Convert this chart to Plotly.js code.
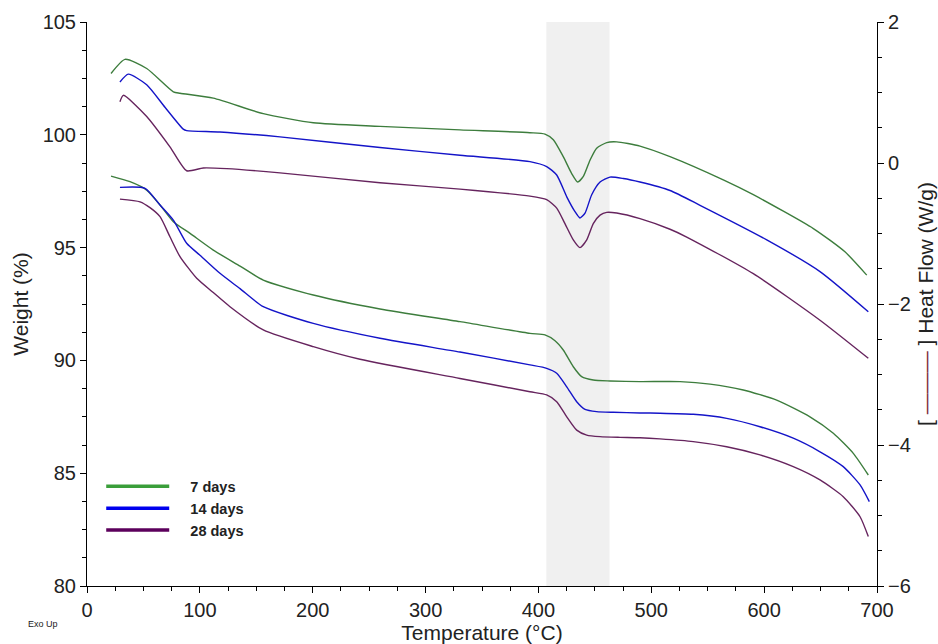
<!DOCTYPE html>
<html>
<head>
<meta charset="utf-8">
<script src="https://cdn.plot.ly/plotly-3.0.1.min.js"></script>
<style>html,body{margin:0;padding:0;background:#fff;}#chart{width:938px;height:644px;}</style>
</head>
<body>
<div id="chart"></div>
<script>
// ---- Data ----
const seriesNames = ['7 days', '14 days', '28 days'];

// Heat flow (W/g), right axis
const tempHF7 = [21.3,33.7,52.9,76.5,82.4,111.9,156.2,200.5,259.6,330.5,392.5,405.8,413.2,422.0,429.5,434.8,439.8,445.7,451.6,460.5,469.4,490,516.6,563.8,590.4,643.6,671.6,690.9];
const hf7 = [1.27,1.47,1.34,1.01,0.99,0.92,0.70,0.57,0.52,0.47,0.43,0.41,0.33,0.09,-0.15,-0.27,-0.19,0.04,0.21,0.29,0.30,0.24,0.09,-0.24,-0.45,-0.93,-1.26,-1.59];

const tempHF14 = [29.2,36.6,52.9,69.1,85.3,88.3,117.8,171,259.6,330.5,392.5,407.3,416.2,425.1,432.4,436.8,441.3,447.2,454.6,463.4,475.2,490,516.6,543.2,602.3,649.5,692.3];
const hf14 = [1.15,1.26,1.11,0.79,0.48,0.46,0.44,0.37,0.22,0.11,0.02,-0.05,-0.17,-0.48,-0.69,-0.78,-0.71,-0.45,-0.27,-0.20,-0.22,-0.27,-0.39,-0.60,-1.09,-1.54,-2.11];

const tempHF28 = [29.2,32.2,52.9,73.5,88.3,103,123.8,171,259.6,330.5,392.5,407.3,416.2,423.5,430.9,436.8,442.8,448.6,454.6,460.5,469.4,490,516.6,531.4,590.4,649.5,692.3];
const hf28 = [0.87,0.96,0.66,0.23,-0.11,-0.07,-0.08,-0.14,-0.28,-0.37,-0.47,-0.52,-0.64,-0.86,-1.09,-1.20,-1.09,-0.86,-0.74,-0.70,-0.71,-0.79,-0.94,-1.05,-1.57,-2.23,-2.77];

// Weight (%), left axis
const tempW7 = [21.3,38.1,52.9,64.7,76.5,91.3,111.9,135.6,156.2,200.5,259.6,330.5,392.5,405.8,414.7,422.0,430.9,438.3,448.6,463.4,490,525.5,552.1,581.5,611.1,640.6,661.3,679,692.3];
const w7 = [98.17,97.92,97.55,96.89,96.15,95.63,94.89,94.18,93.56,92.90,92.28,91.72,91.20,91.13,90.87,90.46,89.72,89.28,89.13,89.09,89.06,89.06,88.95,88.69,88.24,87.50,86.77,85.88,84.92];

const tempW14 = [29.2,51.4,64.7,76.5,88.3,100.1,117.8,135.6,156.2,200.5,259.6,330.5,392.5,407.3,416.2,425.1,433.9,441.3,451.6,466.3,490,507.7,537.2,566.8,596.3,625.8,649.5,670.1,685,693.2];
const w14 = [97.67,97.63,96.89,96.22,95.19,94.66,93.86,93.18,92.38,91.64,90.98,90.37,89.80,89.65,89.43,88.83,88.17,87.83,87.73,87.70,87.67,87.66,87.61,87.43,87.06,86.55,85.95,85.29,84.48,83.74];

const tempW28 = [29.2,47,55.8,64.7,73.5,82.4,97.2,111.6,126.7,156.2,200.5,241.9,330.5,392.5,407.3,416.2,425.1,433.9,442.8,454.6,472.3,490,507.7,537.2,566.8,596.3,625.8,649.5,670.1,685,692.3];
const w28 = [97.15,97.03,96.77,96.37,95.48,94.60,93.64,93.02,92.38,91.35,90.61,90.05,89.20,88.61,88.47,88.17,87.50,86.91,86.69,86.62,86.59,86.57,86.52,86.40,86.17,85.81,85.29,84.70,83.96,83.07,82.19];

// Shaded temperature window (°C)
const shadedRange = [407, 463];

// Axis tick values
const xTicks = [0,100,200,300,400,500,600,700];
const yTicks = [80,85,90,95,100,105];
const y2Ticks = [-6,-4,-2,0,2];

// ---- Styling ----
const lineColors = ['#3d7d3d', '#1414c8', '#66245e'];
const legendColors = ['#3a9e3a', '#0000ee', '#5c005c'];
const FONT = 'Liberation Sans, Arial, sans-serif';

const hfX = [tempHF7, tempHF14, tempHF28];
const hfY = [hf7, hf14, hf28];
const wX = [tempW7, tempW14, tempW28];
const wY = [w7, w14, w28];

const traces = [];
for (let i = 0; i < 3; i++) {
  traces.push({
    x: hfX[i], y: hfY[i], yaxis: 'y2', mode: 'lines', type: 'scatter',
    line: {color: lineColors[i], width: 1.4, shape: 'spline', smoothing: 0.6},
    showlegend: false, legendgroup: 'g' + i, hoverinfo: 'skip'
  });
  traces.push({
    x: wX[i], y: wY[i], yaxis: 'y', mode: 'lines', type: 'scatter',
    line: {color: lineColors[i], width: 1.4, shape: 'spline', smoothing: 0.6},
    showlegend: false, legendgroup: 'g' + i, hoverinfo: 'skip'
  });
}
for (let i = 0; i < 3; i++) {
  traces.push({
    x: [null], y: [null], mode: 'lines', type: 'scatter',
    name: '\u00a0\u00a0\u00a0\u00a0' + seriesNames[i],
    line: {color: legendColors[i], width: 3.5},
    legendgroup: 'g' + i, showlegend: true
  });
}

const axisCommon = {
  showgrid: false, zeroline: false, showline: true, linecolor: '#000', linewidth: 1,
  ticks: 'outside', ticklen: 6, tickcolor: '#000', tickwidth: 1,
  tickfont: {family: FONT, size: 20, color: '#222'}
};

const layout = {
  width: 938, height: 644,
  margin: {l: 87, r: 61, t: 22, b: 58},
  paper_bgcolor: '#fff', plot_bgcolor: '#fff',
  font: {family: FONT, color: '#222'},
  xaxis: Object.assign({}, axisCommon, {
    range: [0, 700], tickvals: xTicks,
    minor: {dtick: 25, tick0: 0, ticks: 'outside', ticklen: 4, tickcolor: '#000'},
    title: {text: 'Temperature (°C)', font: {family: FONT, size: 21, color: '#222'}, standoff: 4}
  }),
  yaxis: Object.assign({}, axisCommon, {
    range: [80, 105], tickvals: yTicks,
    minor: {dtick: 1.25, tick0: 80, ticks: 'outside', ticklen: 4, tickcolor: '#000'},
    title: {text: 'Weight (%)', font: {family: FONT, size: 21, color: '#222'}, standoff: 8}
  }),
  yaxis2: Object.assign({}, axisCommon, {
    overlaying: 'y', side: 'right', range: [-6, 2], tickvals: y2Ticks,
    minor: {dtick: 0.5, tick0: -6, ticks: 'outside', ticklen: 4, tickcolor: '#000'},
    title: {text: '[ <span style="color:#7a2a3a">———</span> ] Heat Flow (W/g)', font: {family: FONT, size: 21, color: '#222'}, standoff: 8}
  }),
  shapes: [{
    type: 'rect', xref: 'x', yref: 'paper', x0: shadedRange[0], x1: shadedRange[1], y0: 0, y1: 1,
    fillcolor: '#f0f0f0', line: {width: 0}, layer: 'below'
  }],
  showlegend: true,
  legend: {
    x: 0.018, y: 0.205, xanchor: 'left', yanchor: 'top',
    bgcolor: 'rgba(0,0,0,0)', borderwidth: 0, itemwidth: 63,
    font: {family: FONT, size: 14.5, color: '#222', weight: 'bold'},
    tracegroupgap: 0
  },
  annotations: [{
    text: 'Exo Up', xref: 'paper', yref: 'paper', x: -0.077, y: -0.067,
    xanchor: 'left', yanchor: 'middle', showarrow: false,
    font: {family: FONT, size: 9, color: '#222'}
  }]
};

Plotly.newPlot('chart', traces, layout, {displayModeBar: false, staticPlot: true});
</script>
</body>
</html>
